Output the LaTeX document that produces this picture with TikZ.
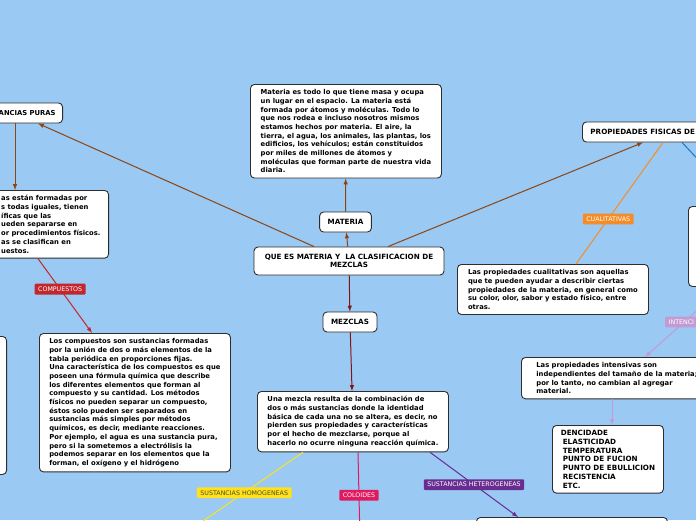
\documentclass[tikz,border=0pt]{standalone}
\usepackage{fontspec}
\setmainfont{DejaVu Sans}
\usepackage{xcolor}
\usepackage{tikz}
\usetikzlibrary{arrows,calc,positioning}

\definecolor{fondo}{RGB}{154,201,244}
\definecolor{borde}{RGB}{45,45,45}
\definecolor{cafe}{RGB}{139,69,19}
\definecolor{vino}{RGB}{130,20,20}
\definecolor{rojo}{RGB}{193,39,45}
\definecolor{naranja}{RGB}{244,140,40}
\definecolor{azul}{RGB}{30,120,180}
\definecolor{lila}{RGB}{195,155,210}
\definecolor{amarillo}{RGB}{255,225,30}
\definecolor{oliva}{RGB}{85,75,25}
\definecolor{magenta}{RGB}{225,25,95}
\definecolor{morado}{RGB}{105,45,145}

\newcommand{\boxfont}{\fontsize{6.8}{8.7}\selectfont\bfseries}
\newcommand{\titlefont}{\fontsize{7.2}{8.7}\selectfont\bfseries}
\newcommand{\tagfont}{\fontsize{6.3}{7}\selectfont}

\begin{document}
\begin{tikzpicture}[x=1pt, y=-1pt]
	\tikzstyle{every node} = [font=\boxfont]
	\tikzstyle{caja} = [rectangle, rounded corners=4pt, draw=borde, line width=0.9pt, fill=white, inner xsep=8pt, inner ysep=5pt]
	\tikzstyle{titulo} = [caja, font=\titlefont, minimum height=20pt, inner ysep=2pt]
	\tikzstyle{etiqueta} = [rectangle, rounded corners=1pt, inner xsep=3.5pt, inner ysep=3pt, font=\tagfont, text=white]
\useasboundingbox (0,0) rectangle (696,520);
\clip (0,0) rectangle (696,520);
\fill[fondo] (0,0) rectangle (696,520);

% centro
\node[titulo, minimum width=190pt, minimum height=28pt, inner ysep=3pt, align=center] (0) at (349,261) {QUE ES MATERIA Y \ LA CLASIFICACION DE\\MEZCLAS};
\node[titulo] (1) at (345.5,222) {MATERIA};
\node[caja, anchor=north west, minimum width=191pt, align=left] (2) at (250,84) {Materia es todo lo que tiene masa y ocupa\\un lugar en el espacio. La materia está\\formada por átomos y moléculas. Todo lo\\que nos rodea e incluso nosotros mismos\\estamos hechos por materia. El aire, la\\tierra, el agua, los animales, las plantas, los\\edificios, los vehículos; están constituidos\\por miles de millones de átomos y\\moléculas que forman parte de nuestra vida\\diaria.};

% izquierda
\node[titulo, font=\boxfont, anchor=east, inner xsep=7pt, text width=80pt, align=right] (3) at (63,113) {ANCIAS PURAS};
\node[caja, anchor=north east, align=left] (4) at (109,190) {as están formadas por\\s todas iguales, tienen\\íficas que las\\ueden separarse en\\or procedimientos físicos.\\as se clasifican en\\uestos.};
\node[caja, anchor=north west, minimum width=191pt, align=left] (5) at (39,333) {Los compuestos son sustancias formadas\\por la unión de dos o más elementos de la\\tabla periódica en proporciones fijas.\\Una característica de los compuestos es que\\poseen una fórmula química que describe\\los diferentes elementos que forman al\\compuesto y su cantidad. Los métodos\\físicos no pueden separar un compuesto,\\éstos solo pueden ser separados en\\sustancias más simples por métodos\\químicos, es decir, mediante reacciones.\\Por ejemplo, el agua es una sustancia pura,\\pero si la sometemos a electrólisis la\\podemos separar en los elementos que la\\forman, el oxígeno y el hidrógeno};
\node[caja, anchor=north east, minimum width=60pt, minimum height=138pt] (6) at (7,336) {};

% derecha
\node[titulo, anchor=west, text width=130pt, align=left] (7) at (582,132) {PROPIEDADES FISICAS DE};
\node[caja, anchor=north west, minimum width=191pt, align=left] (8) at (457,264) {Las propiedades cualitativas son aquellas\\que te pueden ayudar a describir ciertas\\propiedades de la materia, en general como\\su color, olor, sabor y estado físico, entre\\otras.};
\node[caja, anchor=north west, minimum width=120pt, minimum height=80pt] (9) at (688,206) {};
\node[caja, anchor=north west, minimum width=191pt, align=left] (10) at (521,357) {Las propiedades intensivas son\\independientes del tamaño de la materia;\\por lo tanto, no cambian al agregar\\material.};
\node[caja, font=\titlefont, anchor=north west, minimum width=111pt, align=left] (11) at (552,425) {DENCIDADE\\\hspace*{2pt}ELASTICIDAD\\\hspace*{2pt}TEMPERATURA\\\hspace*{2pt}PUNTO DE FUCION\\\hspace*{2pt}PUNTO DE EBULLICION\\\hspace*{2pt}RECISTENCIA\\\hspace*{2pt}ETC.};

% abajo
\node[titulo] (12) at (350,322) {MEZCLAS};
\node[caja, anchor=north west, minimum width=191pt, align=left] (13) at (257,391) {Una mezcla resulta de la combinación de\\dos o más sustancias donde la identidad\\básica de cada una no se altera, es decir, no\\pierden sus propiedades y características\\por el hecho de mezclarse, porque al\\hacerlo no ocurre ninguna reacción química.};
\node[caja, anchor=north west, minimum width=191pt, minimum height=60pt] (14) at (476,517) {};

\coordinate (20) at (720,290);
\coordinate (21) at (190,530);
\coordinate (22) at (360,540);

	\path[draw, cafe, line width=1pt, -latex] (1) -- (2);
	\path[draw, cafe, line width=1pt, -latex] (0) -- (1);
	\path[draw, cafe, line width=1pt, -latex] ([xshift=-35pt]0.north) -- ([xshift=-25pt]3.south east);
	\path[draw, cafe, line width=1pt, -latex] ([xshift=-48pt]3.south east) -- ([xshift=-94pt]4.north east);
	\path[draw, cafe, line width=1pt, -latex] ([xshift=39pt]0.north) -- ([xshift=61pt]7.south west);
	\path[draw, vino, line width=1pt, -latex] (0) -- (12);
	\path[draw, vino, line width=1pt, -latex] (12) -- (13);
	\path[draw, rojo, line width=1pt, -latex] ([xshift=-71pt]4.south east) -- node[etiqueta, fill=rojo, pos=0.41] (15) {COMPUESTOS} ([xshift=53pt]5.north west);
	\path[draw, naranja, line width=1pt] ([xshift=81pt]7.south west) -- node[etiqueta, fill=naranja, pos=0.63] (16) {CUALITATIVAS} ([xshift=119pt]8.north west);
	\path[draw, azul, line width=1pt] ([xshift=100pt]7.south west) -- ([xshift=54pt]9.north west);
	\path[draw, lila, line width=1pt, -latex] (20) -- ([xshift=124pt]10.north west);
	\path[draw, lila, line width=1pt, -latex] ([xshift=91pt]10.south west) -- ([xshift=60pt]11.north west);
	\path[draw, amarillo, line width=1pt] ([xshift=46pt]13.south west) -- node[etiqueta, fill=amarillo, text=oliva, pos=0.52] (17) {SUSTANCIAS HOMOGENEAS} (21);
	\path[draw, magenta, line width=1pt] ([xshift=101pt]13.south west) -- node[etiqueta, fill=magenta, pos=0.49] (18) {COLOIDES} (22);
	\path[draw, morado, line width=1pt, -latex] ([xshift=173pt]13.south west) -- node[etiqueta, fill=morado, pos=0.5] (19) {SUSTANCIAS HETEROGENEAS} ([xshift=42pt]14.north west);
\node[etiqueta, fill=lila, anchor=west, text width=40pt, align=left] (23) at (665,322) {INTENCI};
\end{tikzpicture}
\end{document}
